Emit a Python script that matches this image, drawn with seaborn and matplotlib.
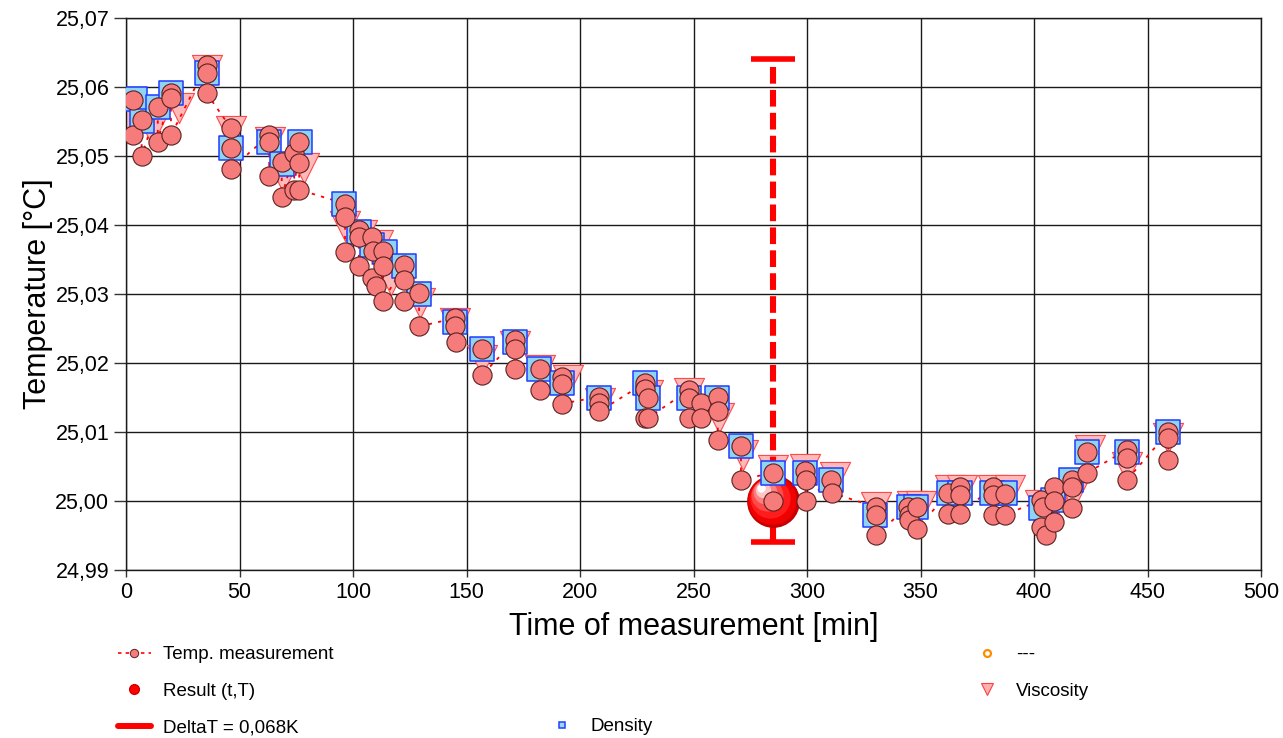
import matplotlib
matplotlib.use("Agg")

import pandas as pd
import matplotlib.pyplot as plt
import seaborn as sns
from matplotlib.lines import Line2D
from matplotlib.ticker import FuncFormatter, MultipleLocator
from matplotlib.transforms import offset_copy

# Temp. measurement (circles), in recording order
temp_time = [
    3.2, 3.2, 6.9, 6.9, 14.0, 14.0, 19.8, 19.8, 19.8, 35.5, 35.5, 35.5,
    46.1, 46.1, 46.1, 63.1, 63.1, 63.1, 68.6, 68.6, 74.1, 74.1, 76.3, 76.3, 76.3,
    96.5, 96.5, 96.5, 102.6, 102.6, 102.6, 108.2, 108.9, 108.2, 110.1,
    113.3, 113.3, 113.3, 122.5, 122.5, 122.5, 129.1, 129.1,
    145.1, 145.1, 145.4, 157.0, 157.0, 171.4, 171.4, 171.4, 182.4, 182.4,
    191.9, 191.9, 191.9, 208.5, 208.5, 208.5, 228.6, 228.6, 229.8, 228.6, 229.8,
    248.1, 248.1, 248.1, 253.2, 253.2, 260.7, 260.7, 260.7, 270.9, 270.9,
    285.2, 285.2, 299.1, 299.4, 299.4, 310.4, 310.8,
    330.4, 330.4, 330.4, 344.6, 345.0, 345.0, 348.3, 348.3,
    362.3, 362.3, 367.4, 367.4, 367.4, 381.8, 381.8, 381.8, 387.2, 387.2,
    402.9, 404.0, 402.9, 405.1, 408.6, 408.6, 408.6, 416.6, 416.6, 416.6,
    423.5, 423.5, 440.8, 440.8, 440.8, 459.2, 459.2, 459.2,
]
temp_value = [
    25.0581, 25.0530, 25.0552, 25.0500, 25.0571, 25.0521, 25.0591, 25.0584, 25.0530,
    25.0632, 25.0620, 25.0591,
    25.0541, 25.0511, 25.0481, 25.0530, 25.0521, 25.0471, 25.0492, 25.0441,
    25.0504, 25.0451, 25.0521, 25.0490, 25.0451,
    25.0431, 25.0412, 25.0361, 25.0393, 25.0383, 25.0341, 25.0383, 25.0363, 25.0323, 25.0312,
    25.0363, 25.0341, 25.0290, 25.0342, 25.0321, 25.0290, 25.0301, 25.0253,
    25.0265, 25.0253, 25.0231, 25.0220, 25.0183, 25.0233, 25.0221, 25.0191, 25.0191, 25.0161,
    25.0180, 25.0169, 25.0141, 25.0151, 25.0142, 25.0130, 25.0171, 25.0162, 25.0150, 25.0120, 25.0120,
    25.0161, 25.0150, 25.0120, 25.0142, 25.0120, 25.0151, 25.0130, 25.0089, 25.0080, 25.0031,
    25.0041, 25.0000, 25.0043, 25.0031, 25.0000, 25.0031, 25.0012,
    24.9991, 24.9980, 24.9951, 24.9992, 24.9980, 24.9972, 24.9991, 24.9960,
    25.0011, 24.9981, 25.0020, 25.0009, 24.9981, 25.0020, 25.0009, 24.9980, 25.0010, 24.9980,
    25.0001, 24.9992, 24.9963, 24.9951, 25.0020, 25.0000, 24.9970, 25.0031, 25.0020, 24.9990,
    25.0071, 25.0041, 25.0074, 25.0062, 25.0030, 25.0100, 25.0091, 25.0060,
]

# Density (squares)
density_time = [
    4.0, 6.9, 13.9, 19.8, 35.5, 46.1, 63.1, 68.9, 76.5, 96.2, 102.8, 108.2, 114.0,
    122.5, 129.1, 145.1, 157.0, 171.5, 181.8, 192.0, 208.5, 228.6, 229.8, 248.1,
    260.5, 270.8, 285.0, 299.1, 310.4, 330.0, 344.8, 348.2, 362.6, 367.5, 381.6,
    387.4, 403.2, 408.5, 416.4, 423.5, 440.8, 458.9,
]
density_value = [
    25.0583, 25.0551, 25.0571, 25.0591, 25.0620, 25.0511, 25.0521, 25.0489, 25.0521,
    25.0430, 25.0390, 25.0371, 25.0361, 25.0341, 25.0300, 25.0260, 25.0220, 25.0230,
    25.0191, 25.0171, 25.0150, 25.0171, 25.0150, 25.0150, 25.0150, 25.0080, 25.0041,
    25.0041, 25.0030, 24.9980, 24.9991, 24.9991, 25.0011, 25.0011, 25.0011, 25.0011,
    24.9990, 25.0001, 25.0030, 25.0071, 25.0071, 25.0100,
]

# Viscosity (triangles)
visc_time = [
    1.5, 11.5, 23.3, 35.9, 46.3, 63.4, 69.2, 78.4, 96.5, 104.0, 111.2, 116.6, 129.5,
    145.0, 157.0, 171.4, 182.4, 194.8, 208.8, 230.1, 248.1, 261.4, 272.0, 285.2,
    299.1, 312.3, 330.4, 346.3, 350.0, 363.0, 368.3, 382.0, 389.4, 402.6, 409.3,
    417.2, 424.7, 441.0, 459.0,
]
visc_value = [
    25.0555, 25.0538, 25.0570, 25.0625, 25.0536, 25.0521, 25.0470, 25.0483, 25.0398,
    25.0385, 25.0371, 25.0320, 25.0287, 25.0258, 25.0204, 25.0224, 25.0190, 25.0175,
    25.0142, 25.0154, 25.0156, 25.0120, 25.0067, 25.0045, 25.0047, 25.0035, 24.9991,
    24.9993, 24.9993, 25.0016, 25.0016, 25.0016, 25.0016, 24.9994, 24.9994, 25.0009,
    25.0074, 25.0049, 25.0091,
]

# Result (t,T) and DeltaT bar
result_time = 285.0
result_temp = 25.000
delta_low = 24.994
delta_high = 25.064

x_ticks = list(range(0, 501, 50))
y_limits = (24.99, 25.07)

sns.set_theme(style="white")
plt.rcParams["font.family"] = ["Liberation Sans", "DejaVu Sans"]
plt.rcParams["lines.scale_dashes"] = False
plt.rcParams["text.color"] = "black"
plt.rcParams["axes.labelcolor"] = "black"
plt.rcParams["xtick.color"] = "black"
plt.rcParams["ytick.color"] = "black"

fig = plt.figure(figsize=(12.83, 7.38), dpi=100)
ax = fig.add_axes([126 / 1283, 168 / 738, 1135 / 1283, 552 / 738])

temp_df = pd.DataFrame({"time": temp_time, "temp": temp_value})
dens_df = pd.DataFrame({"time": density_time, "temp": density_value})
visc_df = pd.DataFrame({"time": visc_time, "temp": visc_value})

# viscosity triangles at the back
sns.scatterplot(data=visc_df, x="time", y="temp", marker="v", s=470,
                color="#ffb9b9", edgecolor="#ff4a4a", linewidth=0.8, ax=ax, zorder=2)

# dashed line joining the temperature readings
sns.lineplot(data=temp_df, x="time", y="temp", sort=False, estimator=None,
             color="red", lw=1.3, ax=ax, zorder=3)
ax.lines[-1].set_linestyle((0, (2.4, 4.5)))

# DeltaT bar
eb = ax.errorbar([result_time], [result_temp],
                 yerr=[[result_temp - delta_low], [delta_high - result_temp]],
                 fmt="none", ecolor="#ff0000", elinewidth=4.4, capsize=16,
                 capthick=4, zorder=4)
eb[2][0].set_linestyle((0, (12, 4.5)))

# Result ball with a simple shading
ball_sizes = [38, 35, 29, 23, 17, 11, 6]
ball_colors = ["#c80000", "#f00000", "#ff1c1c", "#ff4a4a", "#ff8080", "#ffc4c4", "#ffffff"]
ball_shift = [0.0, 0.05, 0.22, 0.42, 0.6, 0.75, 0.85]
for size, col, k in zip(ball_sizes, ball_colors, ball_shift):
    tr = offset_copy(ax.transData, fig=fig, x=-10 * k, y=11 * k, units="points")
    ax.plot([result_time], [result_temp], marker="o", ms=size, mfc=col, mec="none",
            ls="none", transform=tr, zorder=5)

# density squares
sns.scatterplot(data=dens_df, x="time", y="temp", marker="s", s=300,
                color="#8fd4f6", edgecolor="#1f3cff", linewidth=1.1, ax=ax, zorder=6)

# temperature circles on top
sns.scatterplot(data=temp_df, x="time", y="temp", marker="o", s=190,
                color="#f67c7c", edgecolor="#5a2020", linewidth=0.8, ax=ax, zorder=7)

ax.set_xlim(0, 500)
ax.set_ylim(*y_limits)
ax.set_xticks(x_ticks)
ax.yaxis.set_major_locator(MultipleLocator(0.01))
ax.yaxis.set_major_formatter(FuncFormatter(lambda v, p: f"{v:.2f}".replace(".", ",")))
ax.grid(True, color="#1a1a1a", lw=1.0)
ax.set_axisbelow(True)
for side in ax.spines.values():
    side.set_color("#1a1a1a")
    side.set_linewidth(1.0)
ax.tick_params(axis="y", direction="out", length=9, width=1, color="#333333",
               labelsize=15.5, pad=3, left=True)
ax.tick_params(axis="x", direction="out", length=5, width=1, color="#333333",
               labelsize=15.5, pad=4, bottom=True)
ax.set_xlabel("Time of measurement [min]", fontsize=22, labelpad=6)
ax.set_ylabel("Temperature [°C]", fontsize=22, labelpad=2)

# legends below the plot
leg_font = {"family": ["Liberation Sans", "DejaVu Sans"], "size": 13.5}
h_temp = Line2D([], [], ls=(0, (2.5, 3)), color="red", lw=1.2, marker="o", ms=6,
                mfc="#f67c7c", mec="#5a2020", mew=0.7)
h_result = Line2D([], [], ls="none", marker="o", ms=7, mfc="#ff0000", mec="#d00000")
h_delta = Line2D([], [], color="red", lw=4.3)
h_density = Line2D([], [], ls="none", marker="s", ms=5, mfc="#9ad8f8", mec="#2040ff", mew=1.1)
h_dash = Line2D([], [], ls="none", marker="o", ms=5, mfc="white", mec="#ff8c00", mew=1.6)
h_visc = Line2D([], [], ls="none", marker="v", ms=8, mfc="#ffb0b0", mec="#ff4040", mew=0.8)

common = dict(loc="upper left", frameon=False, borderpad=0, borderaxespad=0,
              handlelength=1.75, handletextpad=0.65, labelspacing=1.05, prop=leg_font,
              labelcolor="black")
fig.legend(handles=[h_temp, h_result, h_delta],
           labels=["Temp. measurement", "Result (t,T)", "DeltaT = 0,068K"],
           bbox_to_anchor=(118 / 1283, (738 - 646) / 738), **common)
fig.legend(handles=[h_density], labels=["Density"],
           bbox_to_anchor=(546 / 1283, (738 - 718) / 738), **common)
fig.legend(handles=[h_dash, h_visc], labels=["---", "Viscosity"],
           bbox_to_anchor=(971 / 1283, (738 - 646) / 738), **common)

fig.savefig("out.png", dpi=100)
